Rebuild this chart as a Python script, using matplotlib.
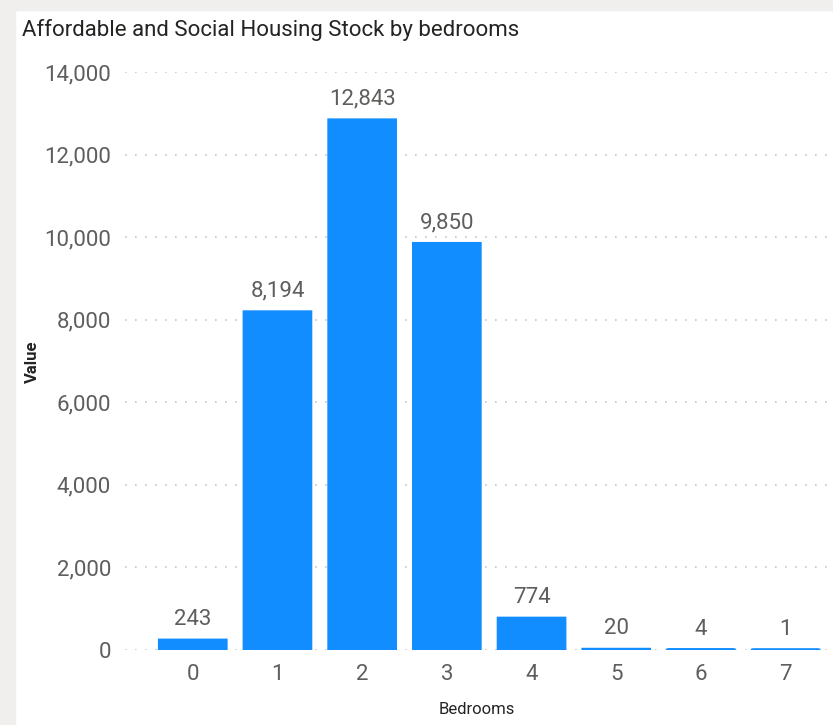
import matplotlib.pyplot as plt
from matplotlib.patches import Rectangle
from matplotlib.ticker import FuncFormatter

# 数据
bedrooms = ["0", "1", "2", "3", "4", "5", "6", "7"]
stock = [243, 8194, 12843, 9850, 774, 20, 4, 1]
y_ticks = [0, 2000, 4000, 6000, 8000, 10000, 12000, 14000]

bar_color = "#118DFF"
label_color = "#605E5C"
plt.rcParams['font.family'] = ['Roboto', 'DejaVu Sans']

fig = plt.figure(figsize=(8.33, 7.25), dpi=100)

# 背景边框（灰色条）
fig.patches.append(Rectangle((0, 0), 1, 1, transform=fig.transFigure, color="white", zorder=-3))
fig.patches.append(Rectangle((0, 0), 15 / 833, 1, transform=fig.transFigure, color="#F0EFED", zorder=-2))
fig.patches.append(Rectangle((0, 1 - 10 / 725), 1, 10 / 725, transform=fig.transFigure, color="#F0EFED", zorder=-2))

ax = fig.add_axes([125 / 833, 75 / 725, 703 / 833, 578 / 725])
x = list(range(len(bedrooms)))
ax.bar(x, stock, width=0.79, color=bar_color, edgecolor=bar_color, linewidth=2, snap=False)

ax.set_xlim(-0.8, 7.5)
ax.set_ylim(0, 14000)
ax.set_yticks(y_ticks)
ax.yaxis.set_major_formatter(FuncFormatter(lambda v, p: f"{int(v):,}"))
ax.set_xticks(x)
ax.set_xticklabels(bedrooms)
ax.tick_params(axis="both", length=0, labelsize=16, colors=label_color)
ax.tick_params(axis="y", pad=10)
ax.tick_params(axis="x", pad=10)

for s in ax.spines.values():
    s.set_visible(False)
ax.yaxis.grid(True, linestyle=(0, (1, 5)), color="#C8C6C4", linewidth=1.2)
ax.set_axisbelow(True)

# 数据标签
for xi, v in zip(x, stock):
    ax.text(xi, v + 250, f"{v:,}", ha="center", va="bottom", fontsize=16, color=label_color)

fig.text(32 / 833, 1 - 362 / 725, "Value", rotation=90, fontsize=12, fontweight="bold",
         color="#252423", ha="center", va="center")
ax.set_xlabel("Bedrooms", fontsize=12, color="#252423", labelpad=12)

fig.text(22 / 833, 1 - 30 / 725, "Affordable and Social Housing Stock by bedrooms",
         fontsize=16, color="#252423", ha="left", va="center")

fig.savefig("out.png", dpi=100)
